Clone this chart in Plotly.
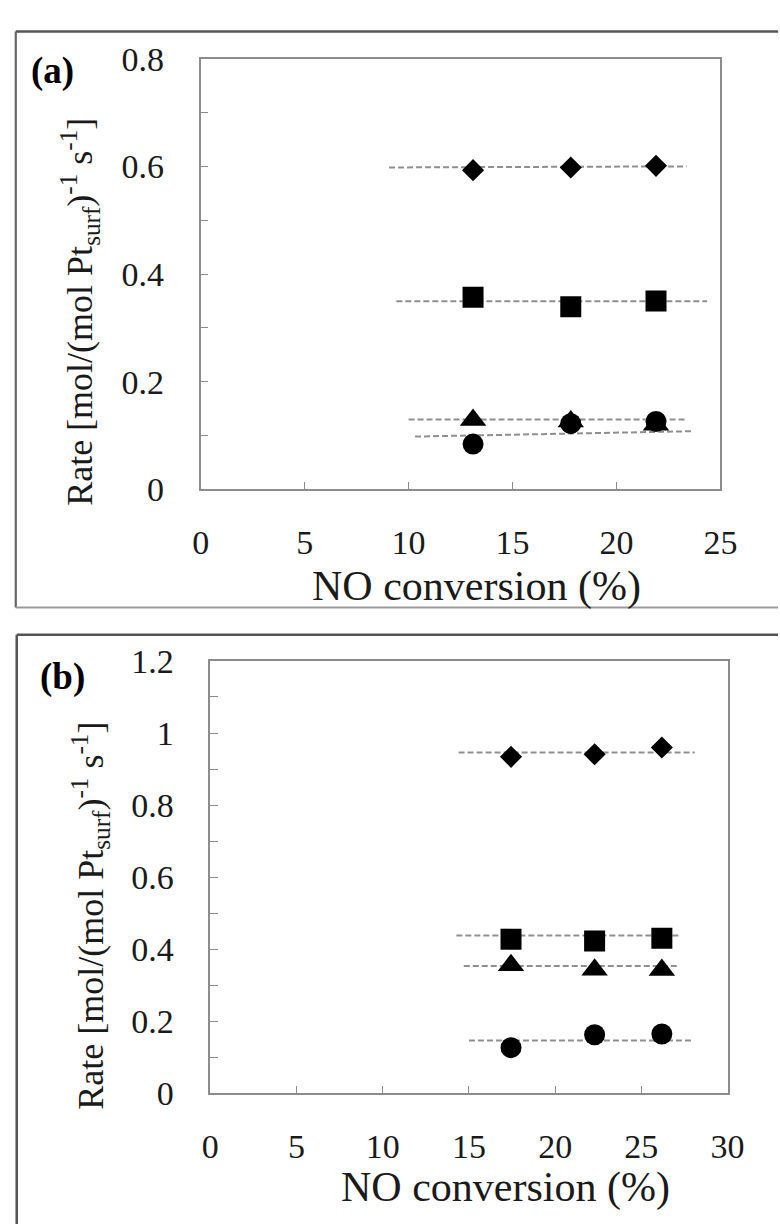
import plotly.graph_objects as go

# ---------------- data ----------------
# Panel (a)
a_x = [13.1, 17.8, 21.9]
a_diamond = [0.593, 0.598, 0.601]
a_square = [0.357, 0.339, 0.350]
a_triangle = [0.129, 0.126, 0.120]
a_circle = [0.084, 0.122, 0.126]
# dashed trend lines (diamond, square, triangle, circle)
a_trend_x0 = [9.06, 9.41, 10.0, 10.31]
a_trend_x1 = [23.37, 24.36, 23.41, 23.72]
a_trend_y0 = [0.598, 0.3495, 0.1297, 0.098]
a_trend_y1 = [0.600, 0.3495, 0.1297, 0.108]

# Panel (b)
b_x = [17.44, 22.29, 26.19]
b_diamond = [0.934, 0.941, 0.960]
b_square = [0.428, 0.423, 0.431]
b_triangle = [0.356, 0.3435, 0.3425]
b_circle = [0.127, 0.163, 0.165]
b_trend_x0 = [14.4, 14.27, 14.7, 15.0]
b_trend_x1 = [28.1, 27.3, 27.2, 28.0]
b_trend_y0 = [0.946, 0.4385, 0.354, 0.147]
b_trend_y1 = [0.946, 0.4385, 0.354, 0.147]

x_title = "NO conversion (%)"
y_title = "Rate [mol/(mol Pt<sub>surf</sub>)<sup>-1</sup> s<sup>-1</sup>]"
panel_labels = ["(a)", "(b)"]

# ---------------- styling ----------------
W, H = 780, 1224
SERIF = "Liberation Serif, Times New Roman, serif"
TXT = "#1a1a1a"
AXC = "#8c8c8c"
TREND = "#8f8f8f"
symbols = ["diamond", "square", "triangle-up", "circle"]
sizes = [17, 21, 23, 21]


def px(x):
    return x / W


def py(y):
    return 1 - y / H


fig = go.Figure()


def add_panel(xa, ya, xs, series, tx0, tx1, ty0, ty1):
    for i in range(4):
        fig.add_trace(go.Scatter(
            x=[tx0[i], tx1[i]], y=[ty0[i], ty1[i]], mode="lines",
            line=dict(color=TREND, width=2, dash="6px,3px"),
            xaxis=xa, yaxis=ya, showlegend=False, hoverinfo="skip"))
    for i, ys in enumerate(series):
        fig.add_trace(go.Scatter(
            x=xs, y=ys, mode="markers",
            marker=dict(symbol=symbols[i], size=sizes[i], color="black",
                        line=dict(width=0)),
            xaxis=xa, yaxis=ya, showlegend=False))


add_panel("x", "y", a_x, [a_diamond, a_square, a_triangle, a_circle],
          a_trend_x0, a_trend_x1, a_trend_y0, a_trend_y1)
add_panel("x2", "y2", b_x, [b_diamond, b_square, b_triangle, b_circle],
          b_trend_x0, b_trend_x1, b_trend_y0, b_trend_y1)

common_x = dict(showgrid=False, zeroline=False, showline=True, linecolor=AXC,
                linewidth=1.6, mirror=True, ticks="inside", ticklen=8,
                tickcolor=AXC, tickwidth=1.4, dtick=5, tick0=0,
                tickfont=dict(family=SERIF, size=34, color=TXT),
                ticklabelstandoff=22, fixedrange=True)
common_y = dict(showgrid=False, zeroline=False, showline=True, linecolor=AXC,
                linewidth=1.6, mirror=True, ticks="inside", ticklen=8,
                tickcolor=AXC, tickwidth=1.4, dtick=0.2, tick0=0,
                minor=dict(dtick=0.1, ticks="inside", ticklen=8,
                           tickcolor=AXC, tickwidth=1.4, showgrid=False),
                tickfont=dict(family=SERIF, size=34, color=TXT),
                ticklabelstandoff=28, fixedrange=True)

fig.update_layout(
    width=W, height=H, margin=dict(l=0, r=0, t=0, b=0),
    paper_bgcolor="white", plot_bgcolor="white", showlegend=False,
    xaxis=dict(common_x, range=[0, 25], domain=[px(198.3), px(736)], anchor="y"),
    yaxis=dict(common_y, range=[0, 0.8], domain=[py(486), py(42)], anchor="x"),
    xaxis2=dict(common_x, range=[0, 30], domain=[px(208.3), px(743.3)], anchor="y2"),
    yaxis2=dict(common_y, range=[0, 1.2], domain=[py(1109), py(663)], anchor="x2"),
)

# panel frames
shapes = [
    dict(type="line", x0=px(7), x1=1.02, y0=py(14), y1=py(14), line=dict(color="#555555", width=2.5)),
    dict(type="line", x0=px(7), x1=px(7), y0=py(14), y1=py(608), line=dict(color="#666666", width=2.2)),
    dict(type="line", x0=px(7), x1=1.02, y0=py(608), y1=py(608), line=dict(color="#9a9a9a", width=2)),
    dict(type="line", x0=px(8), x1=1.02, y0=py(636), y1=py(636), line=dict(color="#555555", width=2.5)),
    dict(type="line", x0=px(8), x1=px(8), y0=py(636), y1=-0.02, line=dict(color="#555555", width=2.5)),
]
for s in shapes:
    s.update(xref="paper", yref="paper", layer="above")
fig.update_layout(shapes=shapes)

annotations = [
    dict(text=f"<b>{panel_labels[0]}</b>", x=px(44.5), y=py(55), font=dict(family=SERIF, size=37, color="black")),
    dict(text=f"<b>{panel_labels[1]}</b>", x=px(55), y=py(680), font=dict(family=SERIF, size=37, color="black")),
    dict(text=x_title, x=px(484), y=py(586), font=dict(family=SERIF, size=42, color=TXT)),
    dict(text=x_title, x=px(514), y=py(1206), font=dict(family=SERIF, size=42, color=TXT)),
    dict(text=y_title, x=px(74), y=py(303.5), textangle=-90, font=dict(family=SERIF, size=36, color=TXT)),
    dict(text=y_title, x=px(84), y=py(925.5), textangle=-90, font=dict(family=SERIF, size=36, color=TXT)),
]
for a in annotations:
    a.update(xref="paper", yref="paper", showarrow=False, xanchor="center", yanchor="middle")
fig.update_layout(annotations=annotations)

fig.write_html("out.html")
